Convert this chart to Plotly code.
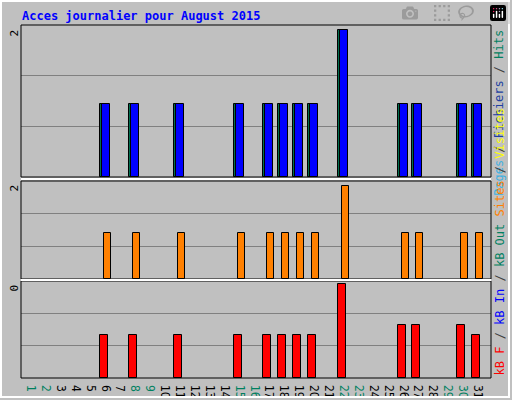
import plotly.graph_objects as go

days = list(range(1, 32))
active = [6, 8, 11, 15, 17, 18, 19, 20, 22, 26, 27, 30, 31]
hits = [2 if d == 22 else (1 if d in active else None) for d in days]
files = hits[:]
sites = hits[:]
kb_map = {22: 5.0, 26: 2.8, 27: 2.8, 30: 2.8}
kb = [kb_map.get(d, 2.3) if d in active else None for d in days]
weekend = [1, 2, 8, 9, 15, 16, 22, 23, 29, 30]
max_labels = ["2", "2", "0"]

W, H = 512, 400
L, R, T, B = 21, 491, 25, 378
px = 14.9  # pixels per day
def dx(p): return p / px

fig = go.Figure()
ln = dict(color="black", width=1)
fig.add_bar(x=days, y=hits, offset=dx(-8), width=dx(8), marker=dict(color="#006f4f", line=ln), yaxis="y", name="Hits")
fig.add_bar(x=days, y=files, offset=dx(-6), width=dx(8), marker=dict(color="#0000ff", line=ln), yaxis="y", name="Fichiers")
fig.add_bar(x=days, y=sites, offset=dx(-4), width=dx(7), marker=dict(color="#ff8000", line=ln), yaxis="y2", name="Sites")
fig.add_bar(x=days, y=kb, offset=dx(-8), width=dx(8), marker=dict(color="#ff0000", line=ln), yaxis="y3", name="kB")

def py(p): return (B - p) / (B - T)

ranges = [2 * 152 / 147, 2 * 98 / 93, 5.0 * 97 / 94]
doms = [[py(177), 1.0], [py(279), py(181)], [0.0, py(281)]]
common = dict(showticklabels=False, ticks="", zeroline=False, showline=False,
              gridcolor="#808080", gridwidth=1, fixedrange=True, anchor="x")
lay = {}
for i, (r, d) in enumerate(zip(ranges, doms)):
    key = "yaxis" if i == 0 else f"yaxis{i+1}"
    lay[key] = dict(common, range=[0, r], domain=d, tickvals=[r / 3, 2 * r / 3])

x0 = 1 + (L - 33) / px
x1 = 1 + (R - 33) / px
ticktext = [f'<span style="color:{"#008060" if d in weekend else "black"}">{d}</span>' for d in days]

fig.update_layout(
    width=W, height=H, margin=dict(l=L, r=W - R, t=T, b=H - B, autoexpand=False),
    paper_bgcolor="#c0c0c0", plot_bgcolor="#c0c0c0", showlegend=False,
    barmode="overlay", bargap=0,
    font=dict(family="DejaVu Sans Mono", size=12, color="black"),
    xaxis=dict(range=[x0, x1], tickvals=days, ticktext=ticktext, showgrid=False,
               ticks="", zeroline=False, showline=False, fixedrange=True, anchor="y3",
               tickfont=dict(size=12, family="DejaVu Sans Condensed")),
    **lay,
)

shapes = []
shapes.append(dict(type="rect", xref="paper", yref="paper",
                   x0=(1 - L) / (R - L), x1=(W - 3 - L) / (R - L),
                   y0=(B - (H - 3)) / (B - T), y1=(B - 1) / (B - T),
                   line=dict(color="white", width=2)))
for d in doms:
    shapes.append(dict(type="rect", xref="paper", yref="paper", x0=0, x1=1, y0=d[0], y1=d[1],
                       line=dict(color="black", width=1), layer="above"))
for ypx in [179, 280]:
    shapes.append(dict(type="line", xref="paper", yref="paper", x0=0, x1=1, y0=py(ypx), y1=py(ypx),
                       line=dict(color="white", width=2)))
fig.update_layout(shapes=shapes)

ann = [dict(text="<b>Acces journalier pour August 2015</b>", xref="paper", yref="paper",
            x=(20 - L) / (R - L), y=py(16), xanchor="left", yanchor="middle", showarrow=False,
            font=dict(color="#0000ff", size=12, family="DejaVu Sans Mono"))]
for lab, ypx in zip(max_labels, [28, 183, 283]):
    ann.append(dict(text=lab, xref="paper", yref="paper", x=(14 - L) / (R - L), y=py(ypx),
                    xanchor="center", yanchor="top", textangle=-90, showarrow=False,
                    font=dict(size=11)))
right_x = (499 - L) / (R - L)
ann.append(dict(text='<span style="color:#40b0e0">Pages</span> / <span style="color:#2040a0">Fichiers</span> / <span style="color:#008060">Hits</span>',
                xref="paper", yref="paper", x=right_x, y=py(28), xanchor="center", yanchor="top",
                textangle=-90, showarrow=False, font=dict(size=12, color="#404040")))
ann.append(dict(text='<span style="color:#ff0000">kB F</span> / <span style="color:#0000ff">kB In</span> / <span style="color:#008060">kB Out</span> <span style="color:#ff8000">Sites</span> / <span style="color:#ffff00">Visites</span>',
                xref="paper", yref="paper", x=right_x, y=py(378), xanchor="center", yanchor="bottom",
                textangle=-90, showarrow=False, font=dict(size=12, color="#404040")))
fig.update_layout(annotations=ann)

fig.write_html("out.html")
with open("out.html", encoding="utf-8") as f:
    html = f.read()
html = html.replace("<body>", '<body style="margin:0;padding:0;overflow:hidden">', 1)
with open("out.html", "w", encoding="utf-8") as f:
    f.write(html)
